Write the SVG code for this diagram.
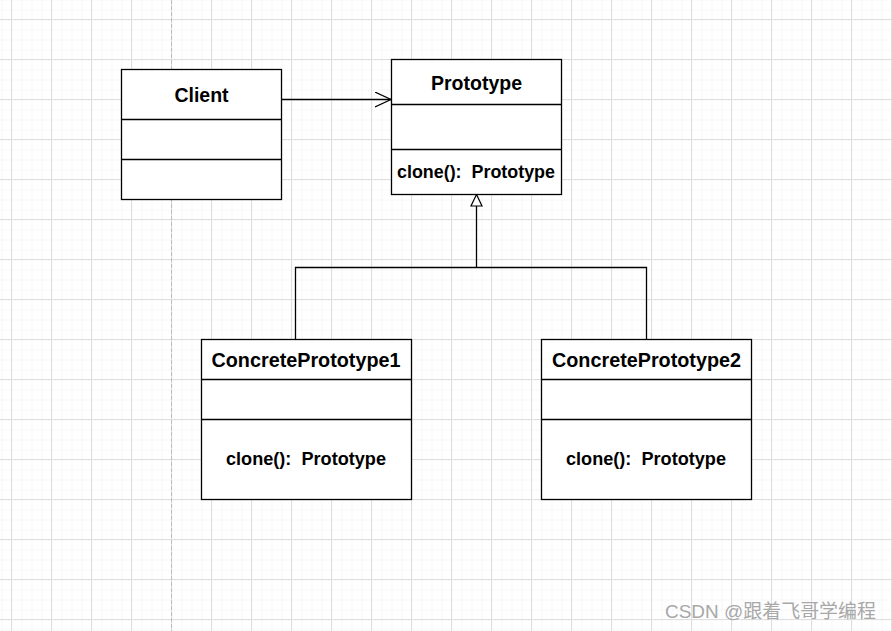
<svg xmlns="http://www.w3.org/2000/svg" width="892" height="631" viewBox="0 0 892 631">
<defs>
<pattern id="minor" patternUnits="userSpaceOnUse" x="1.5" y="9.5" width="10" height="10">
<path d="M0.5 0V10M0 0.5H10" stroke="#f7f7f7" stroke-width="1" fill="none"/>
</pattern>
<pattern id="major" patternUnits="userSpaceOnUse" x="11" y="19" width="40" height="40">
<path d="M0.5 0V40M0 0.5H40" stroke="#dedede" stroke-width="1" fill="none"/>
</pattern>
<marker id="open" markerWidth="18" markerHeight="18" refX="16" refY="8" orient="auto" markerUnits="userSpaceOnUse">
<path d="M0 0.5L16 8L0 15.5" fill="none" stroke="#000" stroke-width="1.2"/>
</marker>
</defs>
<style>
.box{fill:#fff;stroke:#000;stroke-width:1.3}
.div{stroke:#000;stroke-width:1.3}
.title{font-family:"Liberation Sans",Arial,sans-serif;font-weight:bold;font-size:19.5px;fill:#000;text-anchor:middle}
.mem{font-family:"Liberation Sans",Arial,sans-serif;font-weight:bold;font-size:18px;fill:#000;text-anchor:middle;word-spacing:5px}
.conn{stroke:#000;stroke-width:1.3;fill:none}
</style>
<rect width="892" height="631" fill="#fff"/>
<rect width="892" height="631" fill="url(#minor)"/>
<rect width="892" height="631" fill="url(#major)"/>
<line x1="171.5" y1="0" x2="171.5" y2="631" stroke="#bdbdbd" stroke-width="1" stroke-dasharray="4,2"/>

<g id="connectors">
<line class="conn" x1="281.5" y1="99.5" x2="391" y2="99.5" marker-end="url(#open)"/>
<polyline class="conn" points="295.5,339 295.5,267.5 646.5,267.5 646.5,339"/>
<line class="conn" x1="476.5" y1="267.5" x2="476.5" y2="206"/>
<polygon points="476.5,194.5 471,206 482,206" fill="#fff" stroke="#000" stroke-width="1.2"/>
</g>

<g id="client">
<rect class="box" x="121.5" y="69.5" width="160" height="130"/>
<line class="div" x1="121.5" y1="119.5" x2="281.5" y2="119.5"/>
<line class="div" x1="121.5" y1="159.5" x2="281.5" y2="159.5"/>
<text class="title" x="201.5" y="102">Client</text>
</g>

<g id="prototype">
<rect class="box" x="391.5" y="59.5" width="170" height="135"/>
<line class="div" x1="391.5" y1="104.5" x2="561.5" y2="104.5"/>
<line class="div" x1="391.5" y1="149.5" x2="561.5" y2="149.5"/>
<text class="title" x="476.5" y="90">Prototype</text>
<text class="mem" x="476" y="178" textLength="158" lengthAdjust="spacingAndGlyphs">clone(): Prototype</text>
</g>

<g id="concrete1">
<rect class="box" x="201.5" y="339.5" width="210" height="160"/>
<line class="div" x1="201.5" y1="379.5" x2="411.5" y2="379.5"/>
<line class="div" x1="201.5" y1="419.5" x2="411.5" y2="419.5"/>
<text class="title" x="306" y="367" textLength="189" lengthAdjust="spacingAndGlyphs">ConcretePrototype1</text>
<text class="mem" x="306" y="464.5" textLength="160" lengthAdjust="spacingAndGlyphs">clone(): Prototype</text>
</g>

<g id="concrete2">
<rect class="box" x="541.5" y="339.5" width="210" height="160"/>
<line class="div" x1="541.5" y1="379.5" x2="751.5" y2="379.5"/>
<line class="div" x1="541.5" y1="419.5" x2="751.5" y2="419.5"/>
<text class="title" x="646.5" y="367" textLength="189" lengthAdjust="spacingAndGlyphs">ConcretePrototype2</text>
<text class="mem" x="646" y="464.5" textLength="160" lengthAdjust="spacingAndGlyphs">clone(): Prototype</text>
</g>

<text x="665" y="618" font-family="'Liberation Sans','Noto Sans CJK SC',sans-serif" font-size="19" fill="#a8a8a8" textLength="211" lengthAdjust="spacingAndGlyphs">CSDN @跟着飞哥学编程</text>
</svg>
